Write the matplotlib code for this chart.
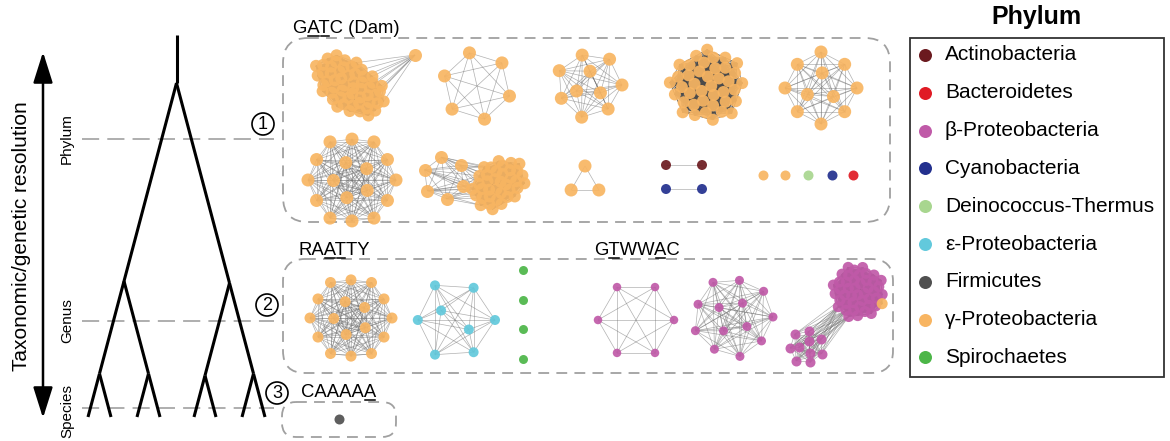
import itertools
import numpy as np
import matplotlib
matplotlib.use("Agg")
import matplotlib.pyplot as plt
from matplotlib.collections import LineCollection
from matplotlib.patches import FancyBboxPatch, Circle, Rectangle

plt.rcParams['font.family'] = ['Liberation Sans', 'DejaVu Sans']

# ---- data ----
phyla = ['Actinobacteria', 'Bacteroidetes', 'β-Proteobacteria', 'Cyanobacteria',
         'Deinococcus-Thermus', 'ε-Proteobacteria', 'Firmicutes', 'γ-Proteobacteria',
         'Spirochaetes']
phylum_colors = ['#6b1a1f', '#e01b24', '#c05aa8', '#23308e', '#a8d68f',
                 '#62c9dc', '#505050', '#f8b562', '#4cb648']
ACT, BAC, BETA, CYA, DEI, EPS, FIR, GAM, SPI = range(9)

motifs = ['GATC (Dam)', 'RAATTY', 'GTWWAC', 'CAAAAA']
motif_underlined = [[1, 2], [2, 3], [1, 4], [5]]

levels = ['Phylum', 'Genus', 'Species']

# one entry per network component: (phylum, node count) members
net_motif = [0] * 15 + [1] * 6 + [2] * 3 + [3]
net_members = [
    [(GAM, 55)], [(GAM, 6)], [(GAM, 10)], [(GAM, 40)], [(GAM, 11)],
    [(GAM, 17)], [(GAM, 38)], [(GAM, 3)], [(ACT, 2)], [(CYA, 2)],
    [(GAM, 1)], [(GAM, 1)], [(DEI, 1)], [(CYA, 1)], [(BAC, 1)],
    [(GAM, 17)], [(EPS, 8)], [(SPI, 1)], [(SPI, 1)], [(SPI, 1)], [(SPI, 1)],
    [(BETA, 6)], [(BETA, 13)], [(BETA, 44), (GAM, 1)],
    [(FIR, 1)],
]
# loosely attached sub-groups and how many links each of their nodes has
net_satellite = [(GAM, 1), None, None, None, None, None, (GAM, 6)] + [None] * 16 + [(BETA, 10), None]
net_links = [10, 0, 0, 0, 0, 0, 6] + [0] * 16 + [3, 0]

# ---- layout (pixel space) ----
W, H = 1170, 441
net_center = [(350, 86), (477, 86), (589, 85), (707, 86), (821, 88),
              (352, 180), (498, 184), (585, 182), (684, 165), (684, 189),
              (763, 175), (785, 175), (808, 175), (832, 175), (853, 175),
              (351, 318), (455, 320), (523, 270), (523, 300), (523, 329), (523, 359),
              (636, 320), (733, 317), (858, 292),
              (339, 419)]
net_radius = [41, 34, 33, 38, 36, 44, 31, 16, 18, 18, 0, 0, 0, 0, 0,
              41, 40, 0, 0, 0, 0, 38, 40, 27, 0]
net_shape = {0: (1.0, 0.6, 35), 6: (1.0, 0.72, -40)}
GOLD = np.pi * (3 - np.sqrt(5))
net_phase = {7: -np.pi / 2, 1: 0.3, 23: 0.45 - 44 * GOLD}
net_node_px = [12, 13, 13, 12, 13, 13, 12, 13] + [10] * 7 + [11, 10, 9, 9, 9, 9, 8.5, 9, 11, 10]
sat_center = {0: (415, 55), 6: (444, 178), 23: (806, 347)}
sat_radius = {0: 0, 6: 21, 23: 17}
sat_node_px = {0: 13, 6: 13, 23: 10}

motif_pos = [(293, 33), (298, 255), (594, 255), (301, 397)]
boxes = [(283, 38, 607, 184, 25), (283, 259, 610, 114, 22), (282, 402, 114, 35, 14)]
level_y = [139, 321, 408]
circle_pos = [(263, 124), (267, 305), (277, 393)]
leaf_x = [88, 111, 137, 160, 194, 216, 242, 265]
leaf_y = 417
tree = (((0, 1), (2, 3)), ((4, 5), (6, 7)))
slope = 0.265


def layout(n, r, phase=0.0):
    if n == 1:
        return np.zeros((1, 2))
    if n == 2:
        return np.array([[-r, 0.0], [r, 0.0]])
    if n <= 7:
        a = phase + 2 * np.pi * np.arange(n) / n
        return r * np.c_[np.cos(a), np.sin(a)]
    if n <= 20:
        n_in = int(round(n * 0.3))
        n_out = n - n_in
        a = phase + 2 * np.pi * np.arange(n_out) / n_out
        ro = r * (1 - 0.07 * (np.arange(n_out) % 2))
        out = np.c_[ro * np.cos(a), ro * np.sin(a)]
        if n_in == 1:
            inn = np.zeros((1, 2))
        else:
            b = phase + 0.6 + 2 * np.pi * np.arange(n_in) / n_in
            inn = 0.42 * r * np.c_[np.cos(b), np.sin(b)]
        return np.vstack([out, inn])
    k = np.arange(n)
    rr = r * np.sqrt((k + 0.5) / n)
    a = phase + k * GOLD
    return np.c_[rr * np.cos(a), rr * np.sin(a)]


def place(pts, center, shape):
    sx, sy, rot = shape
    pts = pts * [sx, sy]
    t = np.deg2rad(rot)
    R = np.array([[np.cos(t), -np.sin(t)], [np.sin(t), np.cos(t)]])
    return pts @ R.T + np.array(center)


fig = plt.figure(figsize=(W / 100, H / 100), dpi=100)
ax = fig.add_axes([0, 0, 1, 1])
ax.set_xlim(0, W)
ax.set_ylim(H, 0)
ax.axis('off')

# ---- networks ----
light, dark = [], []
for i, members in enumerate(net_members):
    n = sum(c for _, c in members)
    segs = dark if n >= 30 else light
    shape = net_shape.get(i, (1, 1, 0))
    pts = place(layout(n, net_radius[i], net_phase.get(i, 0.0)), net_center[i], shape)
    cols = [phylum_colors[p] for p, c in members for _ in range(c)]
    segs += [[pts[a], pts[b]] for a, b in itertools.combinations(range(n), 2)]
    s = (net_node_px[i] * 0.72) ** 2
    ax.scatter(pts[:, 0], pts[:, 1], s=s, c=cols, alpha=0.92, linewidths=0, zorder=4)
    if net_satellite[i] is not None:
        p, m = net_satellite[i]
        sp = place(layout(m, sat_radius[i], 0.4), sat_center[i], (1, 1, 0))
        light.extend([[sp[a], sp[b]] for a, b in itertools.combinations(range(m), 2)])
        for q in sp:
            d = np.hypot(*(pts - q).T)
            for j in np.argsort(d)[:net_links[i]]:
                light.append([q, pts[j]])
        ax.scatter(sp[:, 0], sp[:, 1], s=(sat_node_px[i] * 0.72) ** 2,
                   c=phylum_colors[p], alpha=0.92, linewidths=0, zorder=4)
ax.add_collection(LineCollection(light, colors='#707070', linewidths=0.5, alpha=0.55, zorder=3))
ax.add_collection(LineCollection(dark, colors='#4a4a4a', linewidths=0.5, alpha=0.7, zorder=3))

# ---- boxes and motif labels ----
for x0, y0, w, h, rs in boxes:
    ax.add_patch(FancyBboxPatch((x0, y0), w, h, boxstyle=f'round,pad=0,rounding_size={rs}',
                                fc='none', ec='#a0a0a0', lw=1.3, ls=(0, (6, 4)), zorder=2))

renderer = fig.canvas.get_renderer()


def text_w(s):
    if not s:
        return 0.0
    t = ax.text(0, 0, s, fontsize=13.3)
    w = t.get_window_extent(renderer).width
    t.remove()
    return w


for lab, (x, yb), und in zip(motifs, motif_pos, motif_underlined):
    ax.text(x, yb, lab, fontsize=13.3, va='baseline', ha='left', zorder=5)
    for k in und:
        x0 = x + text_w(lab[:k])
        x1 = x + text_w(lab[:k + 1])
        ax.plot([x0 + 1, x1 - 1], [yb + 2.5, yb + 2.5], color='black', lw=1.1, zorder=5)

# ---- tree ----
def draw(node):
    if isinstance(node, int):
        return leaf_x[node], leaf_y, leaf_x[node], leaf_x[node]
    kids = [draw(c) for c in node]
    xl, xr = kids[0][2], kids[-1][3]
    x = (xl + xr) / 2
    y = leaf_y - (xr - xl) / 2 / slope
    for kx, ky, _, _ in kids:
        ax.plot([x, kx], [y, ky], color='black', lw=2.2, solid_capstyle='butt', zorder=3)
    return x, y, xl, xr


rx, ry, _, _ = draw(tree)
ax.plot([rx, rx], [ry, 35], color='black', lw=2.2, solid_capstyle='butt', zorder=3)

for lab, y in zip(levels, level_y):
    ax.plot([82, 274], [y, y], color='#a8a8a8', lw=1.3, ls=(0, (9.5, 4.5)), zorder=2)
    ax.text(67, y + (3 if lab == 'Species' else 0), lab, rotation=90, fontsize=11,
            ha='center', va='center')

for k, (cx, cy) in enumerate(circle_pos):
    ax.add_patch(Circle((cx, cy), 11, fc='white', ec='black', lw=1.2, zorder=5))
    ax.text(cx, cy + 0.5, str(k + 1), fontsize=13, ha='center', va='center', zorder=6)

ax.annotate('', xy=(43, 52), xytext=(43, 418),
            arrowprops=dict(arrowstyle='<|-|>,head_length=1.9,head_width=0.6',
                            lw=1.8, color='black', shrinkA=0, shrinkB=0))
ax.text(22, 236, 'Taxonomic/genetic resolution', rotation=90, fontsize=15,
        ha='center', va='center')

# ---- legend ----
ax.text(1036, 17, 'Phylum', fontsize=18, fontweight='bold', ha='center', va='center')
ax.add_patch(Rectangle((910, 38), 254, 339, fc='none', ec='#333333', lw=1.3))
for k, (name, col) in enumerate(zip(phyla, phylum_colors)):
    y = 55 + 37.8 * k
    ax.scatter([925], [y], s=(13 * 0.72) ** 2, c=col, linewidths=0, zorder=4)
    ax.text(945, y, name, fontsize=15, ha='left', va='center')

fig.savefig('out.png', dpi=100, facecolor='white')
